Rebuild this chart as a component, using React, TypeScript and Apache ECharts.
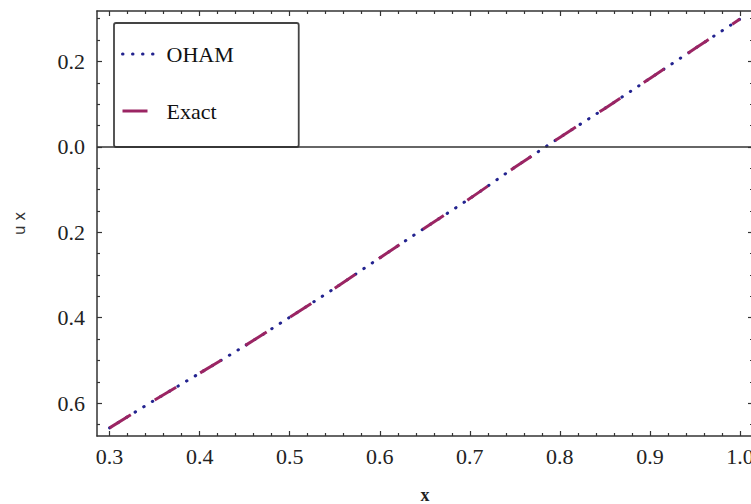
import React, { useEffect, useRef } from "react";
import * as echarts from "echarts";

// x grid of the sampled curve
const xValues = [0.30, 0.35, 0.40, 0.45, 0.50, 0.55, 0.60, 0.65, 0.70, 0.75, 0.80, 0.85, 0.90, 0.95, 1.00];
// OHAM approximate solution u(x)
const ohamValues = [-0.658, -0.593, -0.530, -0.466, -0.399, -0.331, -0.260, -0.190, -0.121, -0.048, 0.022, 0.090, 0.160, 0.230, 0.299];
// Exact solution u(x)
const exactValues = [-0.658, -0.593, -0.530, -0.466, -0.399, -0.331, -0.260, -0.190, -0.121, -0.048, 0.022, 0.090, 0.160, 0.230, 0.299];

const seriesNames = ["OHAM", "Exact"];

// tick positions
const xMajorTicks = [0.3, 0.4, 0.5, 0.6, 0.7, 0.8, 0.9, 1.0];
const xMinorTicks = [
  0.32, 0.34, 0.36, 0.38, 0.42, 0.44, 0.46, 0.48, 0.52, 0.54, 0.56, 0.58,
  0.62, 0.64, 0.66, 0.68, 0.72, 0.74, 0.76, 0.78, 0.82, 0.84, 0.86, 0.88,
  0.92, 0.94, 0.96, 0.98,
];
const yMajorTicks = [-0.6, -0.4, -0.2, 0.0, 0.2];
const yMinorTicks = [-0.65, -0.55, -0.5, -0.45, -0.35, -0.3, -0.25, -0.15, -0.1, -0.05, 0.05, 0.1, 0.15, 0.25, 0.3];

const X_MIN = 0.286;
const X_MAX = 1.0145;
const Y_MIN = -0.677;
const Y_MAX = 0.318;

const FRAME = "#333";
const SERIF = "Liberation Serif";

export default function App() {
  const ref = useRef<HTMLDivElement>(null);

  useEffect(() => {
    if (!ref.current) return;
    const chart = echarts.init(ref.current, undefined, { renderer: "svg" });

    const mkX = (position: "bottom" | "top", major: boolean, labels: boolean, name?: string) => ({
      type: "value",
      position,
      min: X_MIN,
      max: X_MAX,
      name,
      nameLocation: "middle",
      nameGap: 50,
      nameTextStyle: { fontFamily: SERIF, fontSize: 18, color: "#222", fontWeight: "bold" },
      axisLine: { show: major, onZero: false, lineStyle: { color: FRAME, width: 1.5 } },
      axisTick: {
        show: true,
        inside: true,
        length: major ? 5 : 3,
        customValues: major ? xMajorTicks : xMinorTicks,
        lineStyle: { color: FRAME, width: 1.2 },
      },
      axisLabel: {
        show: labels,
        customValues: xMajorTicks,
        margin: 9,
        formatter: (v: number) => v.toFixed(1),
        fontFamily: SERIF,
        fontSize: 22,
        color: "#222",
      },
      splitLine: { show: false },
    });

    const mkY = (position: "left" | "right", major: boolean, labels: boolean, name?: string) => ({
      type: "value",
      position,
      min: Y_MIN,
      max: Y_MAX,
      name,
      nameLocation: "middle",
      nameGap: 70,
      nameRotate: 90,
      nameTextStyle: { fontFamily: "DejaVu Sans", fontSize: 15, color: "#333" },
      axisLine: { show: major, onZero: false, lineStyle: { color: FRAME, width: 1.5 } },
      axisTick: {
        show: true,
        inside: true,
        length: major ? 5 : 3,
        customValues: major ? yMajorTicks : yMinorTicks,
        lineStyle: { color: FRAME, width: 1.2 },
      },
      axisLabel: {
        show: labels,
        customValues: yMajorTicks,
        margin: 12,
        formatter: (v: number) => Math.abs(v).toFixed(1),
        fontFamily: SERIF,
        fontSize: 22,
        color: "#222",
      },
      splitLine: { show: false },
    });

    const ohamData = xValues.map((x, i) => [x, ohamValues[i]]);
    const exactData = xValues.map((x, i) => [x, exactValues[i]]);

    chart.setOption({
      animation: false,
      grid: {
        left: 97,
        top: 11,
        width: 656,
        height: 425,
        containLabel: false,
        outerBoundsMode: "none",
      },
      xAxis: [
        mkX("bottom", true, true, "x"),
        mkX("bottom", false, false),
        mkX("top", true, false),
        mkX("top", false, false),
      ],
      yAxis: [
        mkY("left", true, true, "u x"),
        mkY("left", false, false),
        mkY("right", true, false),
        mkY("right", false, false),
      ],
      legend: {
        orient: "vertical",
        left: 114,
        top: 23,
        padding: [20, 65, 25, 7],
        itemWidth: 33,
        itemHeight: 14,
        itemGap: 35,
        borderColor: "#444",
        borderWidth: 1.8,
        borderRadius: 2,
        backgroundColor: "#fff",
        itemStyle: { opacity: 0 },
        lineStyle: { width: 3 },
        textStyle: { fontFamily: SERIF, fontSize: 22, color: "#111", padding: [0, 0, 0, 6] },
        data: seriesNames,
      },
      series: [
        {
          name: seriesNames[0],
          type: "line",
          xAxisIndex: 0,
          yAxisIndex: 0,
          data: ohamData,
          smooth: 0.3,
          symbol: "none",
          showSymbol: false,
          color: "#23238f",
          lineStyle: { color: "#23238f", width: 3, type: [0.5, 9.5], cap: "round" },
          markLine: {
            silent: true,
            symbol: "none",
            label: { show: false },
            lineStyle: { color: FRAME, width: 1.5, type: "solid" },
            data: [{ yAxis: 0 }],
          },
          z: 2,
        },
        {
          name: seriesNames[1],
          type: "line",
          xAxisIndex: 0,
          yAxisIndex: 0,
          data: exactData,
          smooth: 0.3,
          symbol: "none",
          showSymbol: false,
          color: "#9b2563",
          lineStyle: { color: "#9b2563", width: 3, type: [25, 28], cap: "butt" },
          z: 3,
        },
      ],
    });

    return () => chart.dispose();
  }, []);

  return (
    <div
      ref={ref}
      style={{ position: "fixed", left: 0, top: 0, width: 751, height: 504, background: "#fff" }}
    />
  );
}
